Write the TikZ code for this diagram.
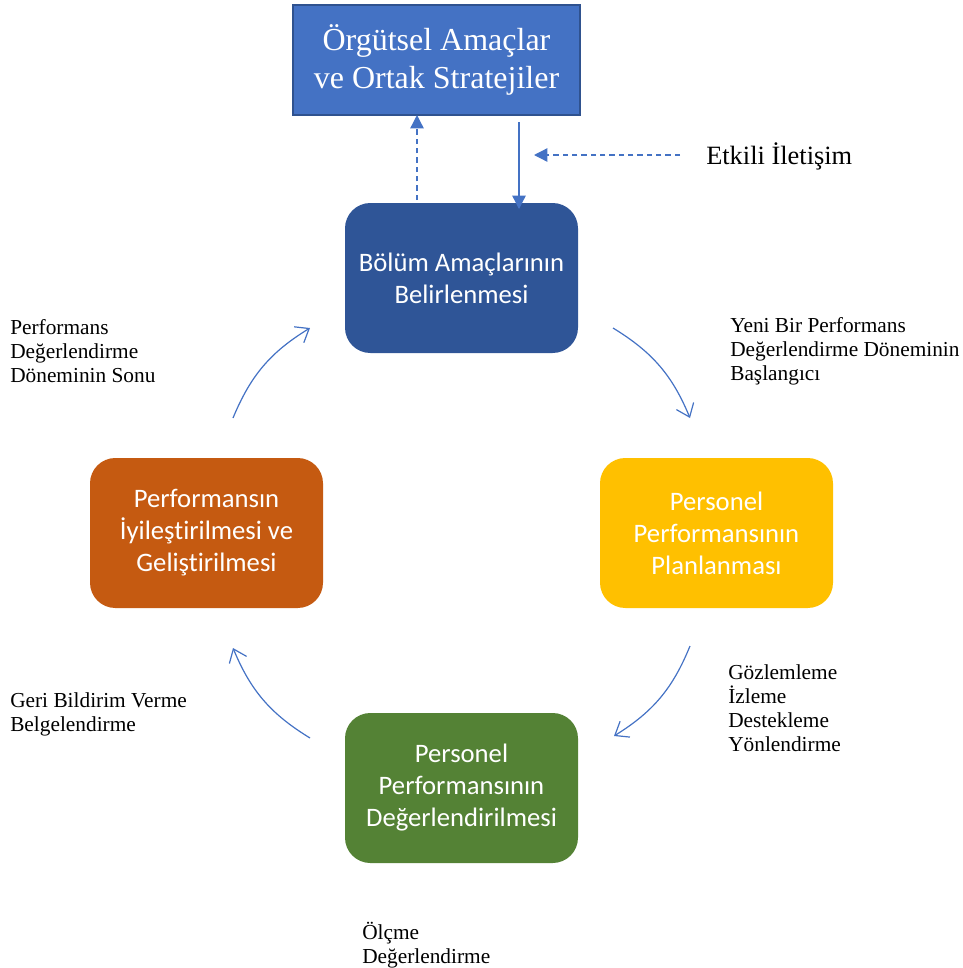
\documentclass[tikz,border=0pt]{standalone}
\usepackage{fontspec}
\setmainfont{Liberation Serif}
\newfontfamily\boxfont[Ligatures=NoCommon]{Carlito}
\usetikzlibrary{arrows.meta}
\definecolor{lineblue}{HTML}{4472C4}
\definecolor{topborder}{HTML}{2F528F}
\definecolor{darkblue}{HTML}{2F5597}
\definecolor{gold}{HTML}{FFC000}
\definecolor{grn}{HTML}{548235}
\definecolor{orng}{HTML}{C55A11}
\tikzset{
  stage/.style={rounded corners=19pt, minimum width=174.75pt, minimum height=112.5pt,
    text=white, align=center, font=\boxfont\fontsize{20}{24}\selectfont, inner sep=0pt},
  lbl/.style={anchor=north west, align=left, inner sep=0pt, font=\fontsize{16}{18}\selectfont},
  cyc/.style={draw=lineblue, line width=0.9pt, -{Straight Barb[length=9pt,width=14pt]}},
  vert/.style={draw=lineblue, line width=1pt, -{Triangle[length=10pt,width=10pt]}},
}
\begin{document}
\begin{tikzpicture}[x=0.75pt,y=0.75pt]
\useasboundingbox (0,0) rectangle (963,-968);
\node[draw=topborder, line width=1.5pt, fill=lineblue, minimum width=215pt, minimum height=82.5pt,
  text=white, align=center, font=\fontsize{24}{28.5}\selectfont, inner sep=0pt]
  (top) at (436.5,-60) {Örgütsel Amaçlar\\ve Ortak Stratejiler};
\node[stage, fill=darkblue] (bolum) at (461.5,-278) {Bölüm Amaçlarının\\Belirlenmesi};
\node[stage, fill=gold] (plan) at (716.5,-533) {Personel\\Performansının\\Planlanması};
\node[stage, fill=grn] (deg) at (461.5,-788) {Personel\\Performansının\\Değerlendirilmesi};
\node[stage, fill=orng] (iyi) at (206.5,-533) {Performansın\\İyileştirilmesi ve\\Geliştirilmesi};

\node[anchor=west, inner sep=0pt, font=\fontsize{19.8}{23}\selectfont] (etk) at (706,-156) {Etkili İletişim};

\coordinate (upS) at (417,-200);
\coordinate (upE) at (417,-115);
\coordinate (dnS) at (519,-122);
\coordinate (dnE) at (519,-209);
\coordinate (lfS) at (680,-155);
\coordinate (lfE) at (534,-155);
\draw[vert, dashed, dash pattern=on 4pt off 3pt] (upS) -- (upE);
\draw[vert] (dnS) -- (dnE);
\draw[vert, dashed, dash pattern=on 4pt off 3pt] (lfS) -- (lfE);

\coordinate (a1s) at (613,-328); \coordinate (a1e) at (690,-418);
\coordinate (a2s) at (690,-646); \coordinate (a2e) at (614,-736);
\coordinate (a3s) at (310,-738); \coordinate (a3e) at (233,-648);
\coordinate (a4s) at (233,-418); \coordinate (a4e) at (310,-328);
\draw[cyc] (a1s) to[bend left=18] (a1e);
\draw[cyc] (a2s) to[bend left=18] (a2e);
\draw[cyc] (a3s) to[bend left=18] (a3e);
\draw[cyc] (a4s) to[bend left=18] (a4e);

\node[lbl] (l1) at (10,-319) {Performans\\Değerlendirme\\Döneminin Sonu};
\node[lbl] (l2) at (730,-317) {Yeni Bir Performans\\Değerlendirme Döneminin\\Başlangıcı};
\node[lbl] (l3) at (728,-664) {Gözlemleme\\İzleme\\Destekleme\\Yönlendirme};
\node[lbl] (l4) at (10,-692) {Geri Bildirim Verme\\Belgelendirme};
\node[lbl] (l5) at (362,-922) {Ölçme\\Değerlendirme};
\end{tikzpicture}
\end{document}
